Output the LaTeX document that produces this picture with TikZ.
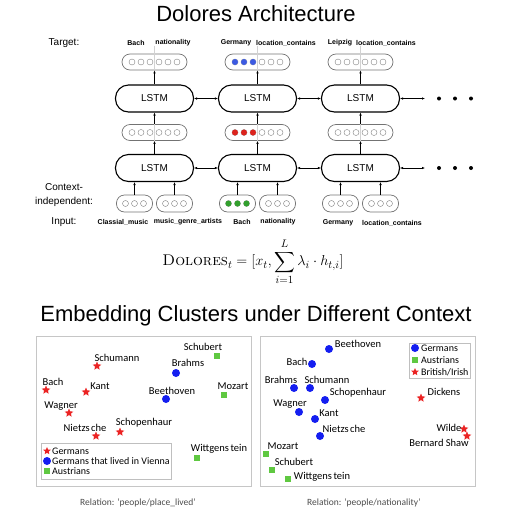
\documentclass[tikz,border=0pt]{standalone}
\usepackage{fontspec}
\usepackage{amsmath}
\newfontfamily\helv{Liberation Sans}
\newfontfamily\calfont{Carlito}
\usetikzlibrary{positioning, arrows.meta, shapes.geometric}
\definecolor{dotblue}{RGB}{60,90,225}
\definecolor{dotred}{RGB}{220,35,30}
\definecolor{dotgreen}{RGB}{50,160,45}
\definecolor{scblue}{RGB}{20,30,240}
\definecolor{scred}{RGB}{235,35,35}
\definecolor{scgreen}{RGB}{95,200,65}
\tikzset{
	lstm/.style={draw, line width=1.1pt, rounded corners=13pt, minimum width=78pt, minimum height=27pt, font=\helv\fontsize{10}{12}\selectfont},
	vecbox/.style={draw=gray!90!black, line width=0.7pt, rounded corners=8pt, minimum width=65pt, minimum height=16pt},
	inbox/.style={draw=gray!90!black, line width=0.7pt, rounded corners=8pt, minimum width=36pt, minimum height=17pt},
	unit/.style={circle, draw=gray, line width=0.4pt, inner sep=0pt, minimum size=6pt},
	hot/.style={circle, fill=#1, inner sep=0pt, minimum size=6pt},
	arr/.style={-{Latex[length=3pt,width=2.4pt]}, line width=0.5pt},
	arrboth/.style={{Latex[length=3pt,width=2.4pt]}-{Latex[length=3pt,width=2.4pt]}, line width=0.5pt},
	lbl/.style={font=\helv\bfseries\fontsize{7}{8}\selectfont, inner sep=1pt},
	side/.style={font=\helv\fontsize{10}{14}\selectfont, align=center, inner sep=0pt},
	headline/.style={font=\helv\fontsize{22}{26}\selectfont, inner sep=0pt},
	panel/.style={draw=gray!45, line width=0.8pt, inner sep=0pt},
	legbox/.style={draw=gray!50, line width=0.7pt, inner sep=0pt},
	word/.style={font=\calfont\fontsize{10.5}{12}\selectfont, inner sep=0pt},
	legword/.style={font=\calfont\fontsize{10}{12}\selectfont, inner sep=0pt, anchor=west},
	caption/.style={font=\calfont\fontsize{9.5}{11}\selectfont, text=gray!60!black, inner sep=0pt},
	ger/.style={star, star points=5, star point ratio=2.2, fill=scred, inner sep=0pt, minimum size=9pt},
	vie/.style={circle, fill=scblue, inner sep=0pt, minimum size=8pt},
	aut/.style={rectangle, fill=scgreen, inner sep=0pt, minimum size=6.5pt}
}
\begin{document}
\begin{tikzpicture}[x=1pt, y=-1pt]
	\useasboundingbox (0,0) rectangle (512,512);
	% titles %
	\node[headline] (title) at (256,14) {Dolores Architecture};
	\node[headline, anchor=base] (title2) at (256,321) {Embedding Clusters under Different Context};

	% side labels %
	\node[side] (s-target) at (64,43) {Target:};
	\node[side] (s-ctx) at (64,195.5) {Context-\\independent:};
	\node[side] (s-input) at (64,222) {Input:};

	% columns %
	\foreach \c/\x in {1/154.5, 2/257.5, 3/360.5} {
		\node[lstm] (up\c) at (\x,98.5) {LSTM};
		\node[lstm] (lo\c) at (\x,168) {LSTM};
		\node[vecbox] (tg\c) at (\x,62) {};
		\node[vecbox] (md\c) at (\x,132.5) {};
		\node[inbox] (ina\c) at (\x-20,203.5) {};
		\node[inbox] (inb\c) at (\x+20,203.5) {};
		\draw[gray!35, line width=0.5pt] ([yshift=8pt]tg\c.north) -- (tg\c.south);
		\draw[gray!35, line width=0.5pt] (md\c.north) -- (md\c.south);
		\foreach \k in {-22.5,-13.5,-4.5,4.5,13.5,22.5} {
			\node[unit] at ([xshift=\k pt]tg\c.center) {};
			\node[unit] at ([xshift=\k pt]md\c.center) {};
		}
		\foreach \k in {-9,0,9} {
			\node[unit] at ([xshift=\k pt]ina\c.center) {};
			\node[unit] at ([xshift=\k pt]inb\c.center) {};
		}
		% edges %
		\draw[arr] (ina\c.north) -- (ina\c.north |- lo\c.south);
		\draw[arr] (inb\c.north) -- (inb\c.north |- lo\c.south);
		\draw[arr] (lo\c) -- (md\c);
		\draw[arr] (md\c) -- (up\c);
		\draw[arr] (up\c) -- (tg\c);
	}
	% active units %
	\foreach \k in {-22.5,-13.5,-4.5} {
		\node[hot=dotblue] at ([xshift=\k pt]tg2.center) {};
		\node[hot=dotred] at ([xshift=\k pt]md2.center) {};
	}
	\foreach \k in {-9,0,9}
		\node[hot=dotgreen] at ([xshift=\k pt]ina2.center) {};

	% recurrent edges %
	\coordinate (upend) at (425,98.5);
	\coordinate (loend) at (425,168);
	\foreach \r/\e in {up/upend, lo/loend} {
		\draw[arrboth] (\r1) -- (\r2);
		\draw[arrboth] (\r2) -- (\r3);
		\draw[arrboth] (\r3) -- (\e);
		\foreach \d in {439,455,471}
			\fill ([xshift=\d pt-425pt]\e) circle (2pt);
	}

	% target and input words %
	\node[lbl] (t1a) at (136,43) {Bach};
	\node[lbl] (t1b) at (173,43) {nationality};
	\node[lbl] (t2a) at (236,43) {Germany};
	\node[lbl] (t2b) at (286,43) {location\_contains};
	\node[lbl] (t3a) at (340,43) {Leipzig};
	\node[lbl] (t3b) at (386,43) {location\_contains};
	\node[lbl] (i1a) at (123,222) {Classial\_music};
	\node[lbl] (i1b) at (188,222) {music\_genre\_artists};
	\node[lbl] (i2a) at (242,222) {Bach};
	\node[lbl] (i2b) at (278,222) {nationality};
	\node[lbl] (i3a) at (338,223) {Germany};
	\node[lbl] (i3b) at (392,223) {location\_contains};

	% formula %
	\node[font=\fontsize{15.5}{18}\selectfont, inner sep=0pt] (eq) at (253,262)
		{$\textsc{Dolores}_t = [x_t, \displaystyle\sum_{i=1}^{L} \lambda_i \cdot h_{t,i}]$};

	% left panel %
	\node[panel, minimum width=215pt, minimum height=150pt] (pl) at (143.5,411) {};
	\foreach \n/\px/\py/\lx/\ly/\t in {schumann/97/366/117/358/Schumann, bach/46/390/53/382/Bach,
		kant/86/392/100/386/Kant, wagner/69/413/61/406/Wagner,
		schopenhaur/120/432/144/423/Schopenhaur, nietzsche/96/436/85/428/Nietzs\kern1.5pt che} {
		\node[ger] (L\n) at (\px,\py) {};
		\node[word] (Lt\n) at (\lx,\ly) {\t};
	}
	\foreach \n/\px/\py/\lx/\ly/\t in {brahms/176/373/188/363/Brahms, beethoven/166/399/172/391/Beethoven} {
		\node[vie] (L\n) at (\px,\py) {};
		\node[word] (Lt\n) at (\lx,\ly) {\t};
	}
	\foreach \n/\px/\py/\lx/\ly/\t in {schubert/217/356/203/347/Schubert, mozart/224/395/233/386/Mozart,
		wittgenstein/197/458/219/449/Wittgens\kern1.5pt tein} {
		\node[aut] (L\n) at (\px,\py) {};
		\node[word] (Lt\n) at (\lx,\ly) {\t};
	}
	\node[legbox, minimum width=130pt, minimum height=36pt] (legl) at (106,461) {};
	\node[ger, minimum size=8pt] (legl1) at (47,451) {};
	\node[vie] (legl2) at (47,461) {};
	\node[aut] (legl3) at (47,471) {};
	\node[legword] at (52,451) {Germans};
	\node[legword] at (52,461) {Germans that lived in Vienna};
	\node[legword] at (52,471) {Austrians};
	\node[caption] (capl) at (138,503) {Relation: ‘people/place\_lived’};

	% right panel %
	\node[panel, minimum width=215pt, minimum height=150pt] (pr) at (367.5,411) {};
	\foreach \n/\px/\py/\lx/\ly/\t in {beethoven/329/349/358/344/Beethoven, bach/312/364/297/362/Bach,
		brahms/294/388/281/380/Brahms, schumann/310/388/327/380/Schumann,
		schopenhaur/325/400/358/393/Schopenhaur, wagner/299/412/290/404/Wagner,
		kant/315/419/329/413/Kant, nietzsche/320/436/344/429/Nietzs\kern1.5pt che} {
		\node[vie] (R\n) at (\px,\py) {};
		\node[word] (Rt\n) at (\lx,\ly) {\t};
	}
	\foreach \n/\px/\py/\lx/\ly/\t in {mozart/266/454/283/446/Mozart, schubert/272/470/294/462/Schubert,
		wittgenstein/288/479/322/477/Wittgens\kern1.5pt tein} {
		\node[aut] (R\n) at (\px,\py) {};
		\node[word] (Rt\n) at (\lx,\ly) {\t};
	}
	\foreach \n/\px/\py/\lx/\ly/\t in {dickens/421/398/444/392/Dickens, wilde/464/429/449/428/Wilde,
		shaw/467/436/439/443/Bernard Shaw} {
		\node[ger] (R\n) at (\px,\py) {};
		\node[word] (Rt\n) at (\lx,\ly) {\t};
	}
	\node[legbox, minimum width=61pt, minimum height=35pt] (legr) at (439.5,360.5) {};
	\node[vie] (legr1) at (415,348) {};
	\node[aut] (legr2) at (415,360) {};
	\node[ger, minimum size=8pt] (legr3) at (415,372) {};
	\node[legword] at (421,348) {Germans};
	\node[legword] at (421,360) {Austrians};
	\node[legword] at (421,372) {British/Irish};
	\node[caption] (capr) at (364,503) {Relation: ‘people/nationality’};
\end{tikzpicture}
\end{document}
